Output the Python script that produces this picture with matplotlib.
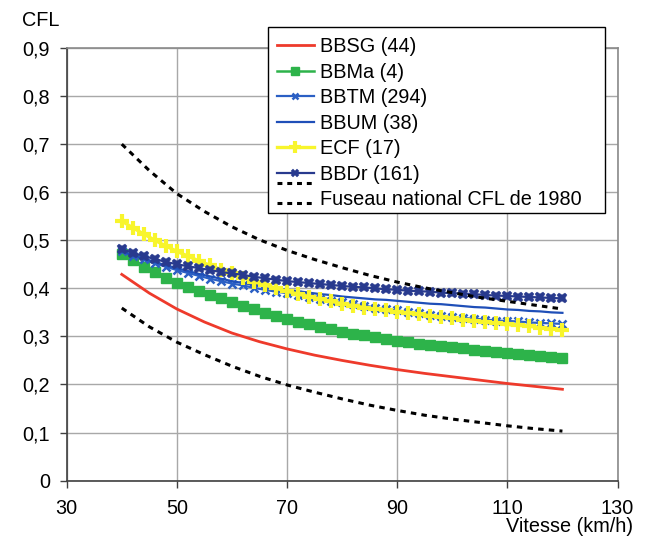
import matplotlib
matplotlib.use("Agg")
import matplotlib.pyplot as plt
from matplotlib.lines import Line2D
from matplotlib.patches import Rectangle
from matplotlib.legend_handler import HandlerBase

plt.rcParams['font.family'] = ['Liberation Sans', 'DejaVu Sans']
FS = 14.3

# ---- data ----
x_fine = list(range(40, 121, 2))
x_coarse = list(range(40, 121, 5))

bbsg = [0.429, 0.390, 0.357, 0.330, 0.307, 0.289, 0.274, 0.261, 0.250,
        0.240, 0.231, 0.223, 0.216, 0.209, 0.202, 0.196, 0.190]
bbma = [0.472, 0.458, 0.445, 0.433, 0.422, 0.412, 0.403, 0.395, 0.387, 0.379,
        0.372, 0.364, 0.357, 0.349, 0.342, 0.336, 0.330, 0.325, 0.320, 0.315,
        0.310, 0.306, 0.302, 0.298, 0.294, 0.291, 0.288, 0.285, 0.282, 0.280,
        0.277, 0.275, 0.272, 0.270, 0.267, 0.265, 0.263, 0.261, 0.259, 0.258, 0.256]
bbtm = [0.477, 0.468, 0.460, 0.452, 0.445, 0.438, 0.432, 0.426, 0.420, 0.415,
        0.410, 0.406, 0.401, 0.397, 0.393, 0.390, 0.386, 0.382, 0.378, 0.374,
        0.371, 0.367, 0.364, 0.360, 0.357, 0.354, 0.351, 0.348, 0.345, 0.343,
        0.340, 0.338, 0.337, 0.335, 0.333, 0.332, 0.331, 0.329, 0.328, 0.327, 0.326]
bbum = [0.477, 0.469, 0.462, 0.455, 0.448, 0.442, 0.436, 0.430, 0.425, 0.420,
        0.415, 0.411, 0.407, 0.404, 0.400, 0.397, 0.394, 0.391, 0.388, 0.386,
        0.383, 0.381, 0.379, 0.377, 0.376, 0.374, 0.372, 0.370, 0.368, 0.367,
        0.365, 0.363, 0.361, 0.360, 0.358, 0.356, 0.355, 0.353, 0.352, 0.350, 0.349]
ecf = [0.540, 0.526, 0.513, 0.500, 0.488, 0.477, 0.467, 0.457, 0.448, 0.439,
       0.431, 0.422, 0.414, 0.407, 0.400, 0.394, 0.388, 0.383, 0.378, 0.373,
       0.368, 0.364, 0.360, 0.357, 0.354, 0.351, 0.348, 0.346, 0.343, 0.340,
       0.338, 0.335, 0.333, 0.330, 0.328, 0.325, 0.323, 0.321, 0.318, 0.316, 0.313]
bbdr = [0.481, 0.474, 0.467, 0.461, 0.455, 0.450, 0.446, 0.442, 0.438, 0.434,
        0.431, 0.428, 0.424, 0.421, 0.418, 0.415, 0.413, 0.411, 0.409, 0.407,
        0.405, 0.403, 0.402, 0.400, 0.398, 0.397, 0.395, 0.394, 0.393, 0.391,
        0.390, 0.389, 0.388, 0.386, 0.385, 0.384, 0.383, 0.382, 0.381, 0.380, 0.379]
fuseau_haut = [0.700, 0.645, 0.597, 0.560, 0.528, 0.501, 0.479, 0.460, 0.443,
               0.427, 0.413, 0.401, 0.391, 0.381, 0.373, 0.365, 0.357]
fuseau_bas = [0.359, 0.320, 0.288, 0.262, 0.238, 0.217, 0.199, 0.184, 0.170,
              0.157, 0.146, 0.136, 0.128, 0.121, 0.114, 0.108, 0.103]

labels = ["BBSG (44)", "BBMa (4)", "BBTM (294)", "BBUM (38)", "ECF (17)",
          "BBDr (161)", "Fuseau national CFL de 1980"]
xticks = [30, 50, 70, 90, 110, 130]
yticks = [0, 0.1, 0.2, 0.3, 0.4, 0.5, 0.6, 0.7, 0.8, 0.9]
yticklabels = ["0", "0,1", "0,2", "0,3", "0,4", "0,5", "0,6", "0,7", "0,8", "0,9"]

# ---- figure ----
W, H = 650, 537
fig = plt.figure(figsize=(W/100, H/100), dpi=100)
ax = fig.add_axes([66.7/W, 1-480.6/H, (617.5-66.7)/W, (480.6-48)/H])

c_red = '#ee3a2b'
c_green = '#2db34a'
c_blue = '#2b5fc4'
c_blue2 = '#1f4fb8'
c_yellow = '#f8f52c'
c_navy = '#283a8e'

dash = (0, (1.8, 1.7))
h1, = ax.plot(x_coarse, bbsg, color=c_red, lw=2.0, zorder=3)
h2, = ax.plot(x_fine, bbma, color=c_green, lw=1.8, marker='s', ms=7,
              mec=c_green, mfc=c_green, zorder=3)
h3, = ax.plot(x_fine, bbtm, color=c_blue, lw=1.6, marker='x', ms=5.5, mew=1.8, zorder=3)
h4, = ax.plot(x_fine, bbum, color=c_blue2, lw=1.6, zorder=3)
h5, = ax.plot(x_fine, ecf, color=c_yellow, lw=2.4, marker='+', ms=10.5, mew=3.0, zorder=3)
h6, = ax.plot(x_fine, bbdr, color=c_navy, lw=1.6, marker='X', ms=7.5, mew=0.3,
              mec=c_navy, mfc=c_navy, zorder=3)
h7, = ax.plot(x_coarse, fuseau_haut, color='black', lw=2.2, linestyle=dash, zorder=3)
ax.plot(x_coarse, fuseau_bas, color='black', lw=2.2, linestyle=dash, zorder=3)

ax.set_xlim(30, 130)
ax.set_ylim(0, 0.9)
ax.set_xticks(xticks)
ax.set_xticklabels([str(v) for v in xticks])
ax.set_yticks(yticks)
ax.set_yticklabels(yticklabels)
ax.tick_params(axis='both', labelsize=FS, length=5, width=1, color='#404040',
               direction='out')
ax.tick_params(axis='y', pad=7)
ax.tick_params(axis='x', pad=8)
ax.grid(True, color='#a8a8a8', lw=1.0)
ax.set_axisbelow(True)
for s in ['left', 'bottom']:
    ax.spines[s].set_color('#404040')
    ax.spines[s].set_linewidth(1.2)
for s in ['top', 'right']:
    ax.spines[s].set_color('#8a8a8a')
    ax.spines[s].set_linewidth(1.2)

fig.text(22/W, 1-20/H, "CFL", fontsize=FS, ha='left', va='center')
fig.text(633/W, 1-526/H, "Vitesse (km/h)", fontsize=FS, ha='right', va='center')


class HandlerTwoDash(HandlerBase):
    def create_artists(self, legend, orig_handle, xdescent, ydescent,
                       width, height, fontsize, trans):
        yc = height / 2 - ydescent
        arts = []
        for off in (0.75 * fontsize, -0.25 * fontsize):
            l = Line2D([-xdescent, width - xdescent], [yc + off, yc + off],
                       color='black', lw=2.2, linestyle=(0, (1.6, 1.6)))
            l.set_transform(trans)
            arts.append(l)
        return arts


# legend frame drawn as a plain rectangle (figure pixels)
fig.patches.append(Rectangle((268/W, 1-213/H), (605-268)/W, (213-27)/H,
                             transform=fig.transFigure, facecolor='white',
                             edgecolor='black', lw=1.0, zorder=5))

leg = fig.legend([h1, h2, h3, h4, h5, h6, h7], labels,
                 loc='upper left', bbox_to_anchor=(277/W, 1-37/H),
                 bbox_transform=fig.transFigure, fontsize=FS,
                 frameon=False, borderaxespad=0, handlelength=1.86,
                 handletextpad=0.3, labelspacing=0.33, borderpad=0.0,
                 handler_map={h7: HandlerTwoDash()})
leg.set_zorder(6)
msizes = [6, 6, 5, 6, 9, 6]
for lh, m in zip(leg.legend_handles[:6], msizes):
    try:
        lh.set_markersize(m)
    except Exception:
        pass

fig.savefig("out.png", dpi=100)
